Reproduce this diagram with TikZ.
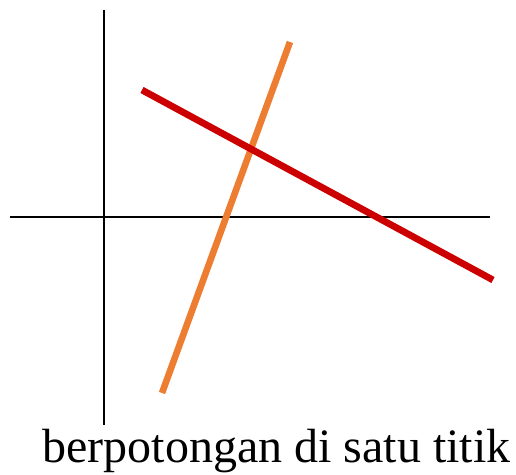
\documentclass[tikz,border=0pt]{standalone}
\usepackage{fontspec}
\setmainfont{Liberation Serif}
\begin{document}
\begin{tikzpicture}[x=0.5pt, y=-0.5pt, line join=round, line cap=butt]
			\useasboundingbox (0,0) rectangle (516,475);
			% Titik-titik
			\path
			(10,217) coordinate (Xa)
			(490,217) coordinate (Xb)
			(104,10) coordinate (Ya)
			(104,425) coordinate (Yb)
			(290,42) coordinate (P1)
			(162,393) coordinate (P2)
			(142,90) coordinate (Q1)
			(493,280) coordinate (Q2);
			% Sumbu
			\draw[line width=0.75pt] (Xa) -- (Xb);
			\draw[line width=0.75pt] (Ya) -- (Yb);
			% Dua garis
			\draw[line width=3.3pt, color={rgb,255:red,237;green,125;blue,49}] (P1) -- (P2);
			\draw[line width=3.4pt, color={rgb,255:red,204;green,0;blue,0}] (Q1) -- (Q2);
			% Keterangan
			\node[anchor=base west, inner sep=0pt, font=\fontsize{24}{29}\selectfont] (ket) at (42,463) {berpotongan di satu titik};
		\end{tikzpicture}
\end{document}
